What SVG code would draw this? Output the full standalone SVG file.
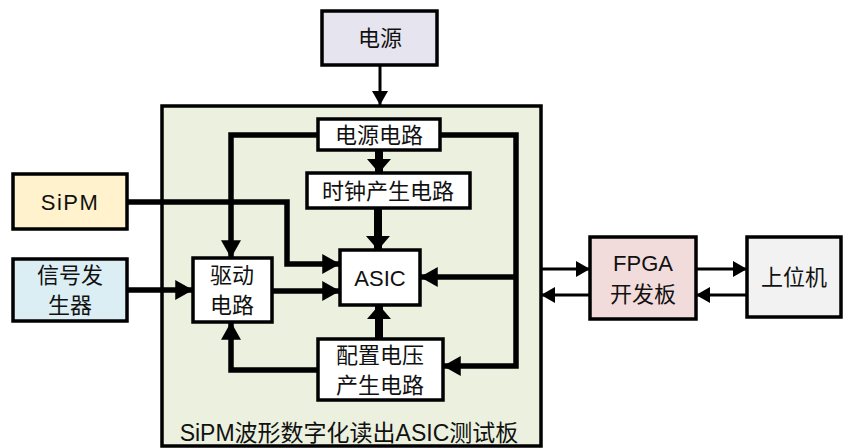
<svg xmlns="http://www.w3.org/2000/svg" width="845" height="448" viewBox="0 0 845 448">
<style>
.box{stroke:#000;stroke-width:3.5}
.t{font-family:"Liberation Sans","Noto Sans CJK SC",sans-serif;font-size:22px;fill:#111;text-anchor:middle;dominant-baseline:central}
.c{fill:none;stroke:#000;stroke-linejoin:miter}
.w5{stroke-width:5.5}
.w8{stroke-width:8}
.w3{stroke-width:3}
</style>
<defs>
<marker id="a" markerUnits="userSpaceOnUse" markerWidth="18" markerHeight="20" viewBox="0 0 16 18" refX="16" refY="9" orient="auto"><path d="M0,0 L16,9 L0,18 Z" fill="#000"/></marker>
<marker id="ab" markerUnits="userSpaceOnUse" markerWidth="16" markerHeight="24" viewBox="0 0 14 24" refX="14" refY="12" orient="auto"><path d="M0,0 L14,12 L0,24 Z" fill="#000"/></marker>
<marker id="as" markerUnits="userSpaceOnUse" markerWidth="14" markerHeight="16" viewBox="0 0 14 16" refX="14" refY="8" orient="auto"><path d="M0,0 L14,8 L0,16 Z" fill="#000"/></marker>
</defs>

<g id="board">
<rect class="box" x="162" y="106" width="379" height="340" fill="#ebf1de"/>
<text class="t" x="349" y="433" style="font-size:23px">SiPM波形数字化读出ASIC测试板</text>
</g>

<g id="connectors">
<path class="c w3" d="M380,65 V105" marker-end="url(#as)"/>
<path class="c w8" d="M379,150 V173" marker-end="url(#ab)"/>
<path class="c w8" d="M378,208 V250" marker-end="url(#ab)"/>
<path class="c w8" d="M379,339 V305" marker-end="url(#ab)"/>
<path class="c w5" d="M318,135 H231 V258" marker-end="url(#a)"/>
<path class="c w5" d="M440,135 H516 V366 H443" marker-end="url(#a)"/>
<path class="c w5" d="M516,277 H420" marker-end="url(#a)"/>
<path class="c w5" d="M127,202 H287 V264 H340" marker-end="url(#a)"/>
<path class="c w5" d="M127,290 H193" marker-end="url(#a)"/>
<path class="c w5" d="M272,291 H340" marker-end="url(#a)"/>
<path class="c w5" d="M318,370 H231 V322" marker-end="url(#a)"/>
<path class="c w3" d="M541,269 H590" marker-end="url(#as)"/>
<path class="c w3" d="M590,295 H541" marker-end="url(#as)"/>
<path class="c w3" d="M696,269 H747" marker-end="url(#as)"/>
<path class="c w3" d="M747,295 H696" marker-end="url(#as)"/>
</g>

<g id="power">
<rect class="box" x="322" y="11" width="115" height="54" fill="#e6e4ee"/>
<text class="t" x="380" y="38">电源</text>
</g>
<g id="power-circuit">
<rect class="box" x="318" y="119" width="122" height="31" fill="#fff"/>
<text class="t" x="379" y="135">电源电路</text>
</g>
<g id="clock">
<rect class="box" x="307" y="173" width="163" height="35" fill="#fff"/>
<text class="t" x="388" y="191">时钟产生电路</text>
</g>
<g id="asic">
<rect class="box" x="340" y="250" width="80" height="55" fill="#fff"/>
<text class="t" x="380" y="278">ASIC</text>
</g>
<g id="driver">
<rect class="box" x="193" y="258" width="79" height="64" fill="#fff"/>
<text class="t" x="232" y="275">驱动</text>
<text class="t" x="232" y="305">电路</text>
</g>
<g id="config">
<rect class="box" x="318" y="339" width="125" height="61" fill="#fff"/>
<text class="t" x="380" y="355">配置电压</text>
<text class="t" x="380" y="385">产生电路</text>
</g>
<g id="sipm">
<rect class="box" x="13" y="174" width="114" height="55" fill="#fff2cc"/>
<text class="t" x="70" y="202" letter-spacing="1.5">SiPM</text>
</g>
<g id="siggen">
<rect class="box" x="13" y="259" width="114" height="62" fill="#dbeef4"/>
<text class="t" x="70" y="275">信号发</text>
<text class="t" x="70" y="305">生器</text>
</g>
<g id="fpga">
<rect class="box" x="590" y="237" width="106" height="82" fill="#f2dcdb"/>
<text class="t" x="643" y="263">FPGA</text>
<text class="t" x="643" y="294">开发板</text>
</g>
<g id="host">
<rect class="box" x="747" y="237" width="94" height="80" fill="#f2f2f2"/>
<text class="t" x="794" y="277">上位机</text>
</g>
</svg>
